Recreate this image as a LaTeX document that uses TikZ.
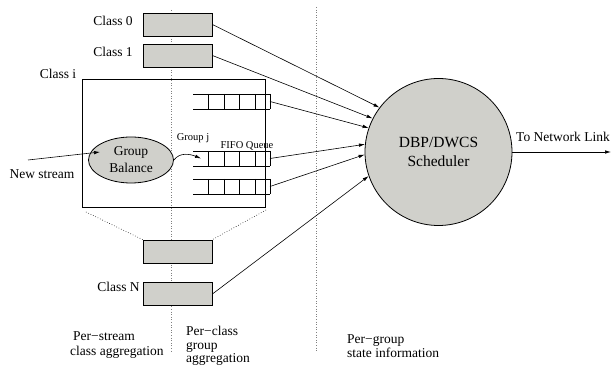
\documentclass[tikz,border=0pt]{standalone}
\usepackage{fontspec}
\setmainfont{Liberation Serif}
\usetikzlibrary{shapes.geometric,arrows.meta}
\definecolor{boxgray}{RGB}{208,208,203}
\begin{document}
\begin{tikzpicture}[x=1pt,y=-1pt,
  classbox/.style={draw,fill=boxgray,line width=0.8pt,minimum width=69pt,minimum height=23pt,inner sep=0pt},
  lbl/.style={font=\fontsize{13.5}{15}\selectfont,inner sep=0pt},
  small/.style={font=\fontsize{10.5}{12}\selectfont,inner sep=0pt},
  arr/.style={line width=0.6pt,-{Latex[length=6pt,width=3.5pt]}},
  sep/.style={dotted,line width=0.6pt,gray},
  qline/.style={line width=0.7pt}]
\useasboundingbox (0,0) rectangle (611,371);

% separators
\draw[sep] (171,10) -- (171,353);
\draw[sep] (316,7) -- (316,352);

% class boxes
\node[classbox] (c0) at (177.5,24.5) {};
\node[classbox] (c1) at (177.5,55.5) {};
\node[classbox] (cm) at (177.5,251.5) {};
\node[classbox] (cN) at (177.5,294) {};
\node[lbl] (l0) at (113,21) {Class 0};
\node[lbl] (l1) at (113,52) {Class 1};
\node[lbl] (li) at (58,74) {Class i};
\node[lbl] (lN) at (118.5,287) {Class N};

% class i box
\draw[line width=0.8pt] (82,79) rectangle (265,207);
\coordinate (tl) at (86,212);
\coordinate (tr) at (266,210);
\draw[dotted,line width=0.6pt] (tl) -- (cm.north west);
\draw[dotted,line width=0.6pt] (tr) -- (cm.north east);

% queues
\foreach \yt/\yb/\nm in {94/109/q1,151/166/q2,179/194/q3}{
  \draw[qline] (193,\yt) -- (270,\yt);
  \draw[qline] (193,\yb) -- (270,\yb);
  \foreach \x in {208,224,239,255,270} \draw[qline] (\x,\yt) -- (\x,\yb);
  \coordinate (\nm) at (270,{(\yt+\yb)/2});
}
\coordinate (q2in) at (201,158.5);

% group balance
\node[ellipse,draw,fill=boxgray,line width=0.8pt,minimum width=85pt,minimum height=46pt,inner sep=0pt,align=center,font=\fontsize{13.5}{17}\selectfont] (gb) at (131,160) {Group\\Balance};
\coordinate (ns) at (28,160);
\coordinate (nsend) at (100,152);
\draw[arr] (ns) -- (nsend);
\node[lbl] (lns) at (42,174) {New stream};
\draw[arr] (gb.east) .. controls (180,152) and (190,154) .. (q2in);
\node[small] (gj) at (193,138) {Group j};
\node[small] (ff) at (247,146) {FIFO Queue};

% scheduler
\node[circle,draw,fill=boxgray,line width=0.8pt,minimum size=147pt,inner sep=0pt,align=center,font=\fontsize{15.5}{19}\selectfont] (s) at (438.5,152) {DBP/DWCS\\Scheduler};
\draw[arr] (c0.east) -- (s.143);
\draw[arr] (c1.east) -- (s.153);
\draw[arr] (q1) -- (s.161);
\draw[arr] (q2) -- (s.174);
\draw[arr] (q3) -- (s.182);
\draw[arr] (cN.east) -- (s.199);
\coordinate (out) at (611,152);
\draw[arr] (s.east) -- (out);
\node[lbl] (tnl) at (563,137) {To Network Link};

% bottom labels
\node[lbl,anchor=west] (b1) at (73,336) {Per−stream};
\node[lbl,anchor=west] (b2) at (70,352) {class aggregation};
\node[lbl,anchor=north west,align=left,font=\fontsize{13.5}{13.5}\selectfont] (b3) at (186,326) {Per−class\\group\\aggregation};
\node[lbl,anchor=north west,align=left,font=\fontsize{13.5}{14}\selectfont] (b4) at (347,334) {Per−group\\state information};
\end{tikzpicture}
\end{document}
